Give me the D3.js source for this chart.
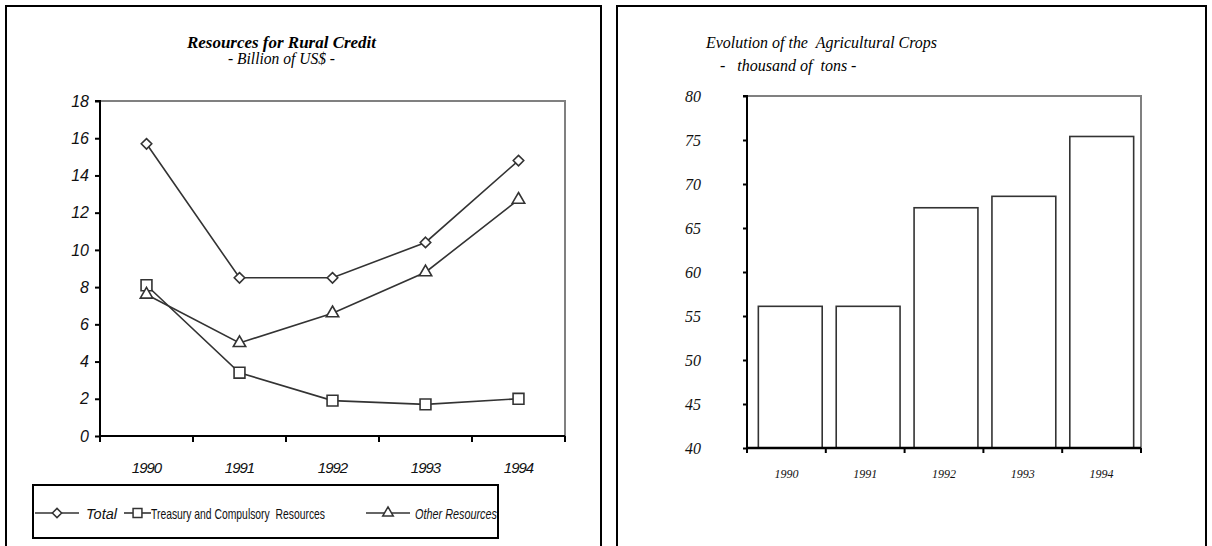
<!DOCTYPE html>
<html><head><meta charset="utf-8">
<script src="https://cdn.jsdelivr.net/npm/d3@7"></script>
<style>body{margin:0;background:#fff}svg{display:block}.pre{white-space:pre}</style>
</head><body>
<svg id="c" width="1212" height="546"></svg>
<script>
// ---- Data ----
const years = ["1990","1991","1992","1993","1994"];
const totalVals = [15.7, 8.5, 8.5, 10.4, 14.8];
const treasuryVals = [8.1, 3.4, 1.9, 1.7, 2.0];
const otherVals = [7.6, 5.0, 6.6, 8.8, 12.7];
const leftTicks = [0,2,4,6,8,10,12,14,16,18];
const seriesNames = ["Total","Treasury and Compulsory  Resources","Other Resources"];
const cropVals = [56.1, 56.1, 67.3, 68.6, 75.4];
const rightTicks = [40,45,50,55,60,65,70,75,80];

const SERIF = "'Liberation Serif','Times New Roman','DejaVu Serif',serif";
const SANS = "'Liberation Sans',Arial,sans-serif";

const svg = d3.select("#c");
const ink = "#333";

// ---- Panel frames ----
svg.append("path").attr("d","M6,560V6H601V560").attr("fill","none").attr("stroke","#000").attr("stroke-width",2);
svg.append("path").attr("d","M617,560V6H1206V560").attr("fill","none").attr("stroke","#000").attr("stroke-width",2);

// ================= LEFT: line chart =================
const L = {x0:100, x1:565, y0:436, y1:101};
const xL = d3.scaleBand().domain(years).range([L.x0, L.x1]);
const yL = d3.scaleLinear().domain([0,18]).range([L.y0, L.y1]);

svg.append("text").attr("x",187).attr("y",48)
  .attr("font-family",SERIF).attr("font-style","italic").attr("font-weight","bold")
  .attr("font-size",17).attr("textLength",189).attr("lengthAdjust","spacingAndGlyphs")
  .text("Resources for Rural Credit");
svg.append("text").attr("x",228).attr("y",64)
  .attr("font-family",SERIF).attr("font-style","italic")
  .attr("font-size",16).attr("textLength",107).attr("lengthAdjust","spacingAndGlyphs")
  .text("- Billion of US$ -");

// plot frame (top/right gray)
svg.append("path").attr("d",`M${L.x0},${L.y1}H${L.x1}V${L.y0}`).attr("fill","none").attr("stroke","#808080").attr("stroke-width",2);

// y axis
const gyL = svg.append("g").attr("transform",`translate(${L.x0},0)`)
  .call(d3.axisLeft(yL).tickValues(leftTicks).tickSize(5).tickPadding(6).tickFormat(d3.format("d")));
gyL.select(".domain").attr("stroke","#000").attr("stroke-width",2).attr("d",`M-5,${L.y1}H0V${L.y0}`);
gyL.selectAll(".tick line").attr("stroke","#000").attr("stroke-width",2);
gyL.selectAll(".tick text").attr("font-family",SANS).attr("font-style","italic").attr("font-size",16).attr("fill","#111");

// x axis
const gxL = svg.append("g").attr("transform",`translate(0,${L.y0})`)
  .call(d3.axisBottom(xL).tickSize(0).tickPadding(26));
gxL.select(".domain").attr("stroke","#000").attr("stroke-width",2).attr("d",`M${L.x0},0H${L.x1}`);
gxL.selectAll(".tick text").attr("font-family",SANS).attr("font-style","italic").attr("font-size",15)
  .attr("letter-spacing",-1).attr("fill","#111");
const bTicksL = years.map(y=>xL(y)).concat([L.x1]);
svg.append("g").selectAll("line").data(bTicksL).join("line")
  .attr("x1",d=>d).attr("x2",d=>d).attr("y1",L.y0).attr("y2",L.y0+6).attr("stroke","#000").attr("stroke-width",2);

const cx = d => xL(d) + xL.bandwidth()/2;
const lineGen = vals => d3.line().x((v,i)=>cx(years[i])).y(v=>yL(v))(vals);

const symTypes = [d3.symbolDiamond2, d3.symbolSquare2, d3.symbolTriangle2];
const symSizes = [70, 150, 110];
const seriesVals = [totalVals, treasuryVals, otherVals];

seriesVals.forEach(vals=>{
  svg.append("path").attr("d",lineGen(vals)).attr("fill","none").attr("stroke",ink).attr("stroke-width",1.6);
});
seriesVals.forEach((vals,k)=>{
  svg.append("g").selectAll("path").data(vals).join("path")
    .attr("d",d3.symbol().type(symTypes[k]).size(symSizes[k])())
    .attr("transform",(v,i)=>`translate(${cx(years[i])},${yL(v)})`)
    .attr("fill","#fff").attr("stroke",ink).attr("stroke-width",1.6);
});

// legend
svg.append("rect").attr("x",33).attr("y",485).attr("width",465).attr("height",53)
  .attr("fill","none").attr("stroke","#000").attr("stroke-width",2);
const legY = 513;
const legItems = [
  {x0:35, x1:79, tx:86, italic:true, len:31, sz:55},
  {x0:124, x1:151, tx:151, italic:false, len:174, sz:100},
  {x0:366, x1:410, tx:415, italic:true, len:82, sz:80}
];
legItems.forEach((it,i)=>{
  svg.append("line").attr("x1",it.x0).attr("x2",it.x1).attr("y1",legY).attr("y2",legY).attr("stroke",ink).attr("stroke-width",1.6);
  svg.append("path").attr("d",d3.symbol().type(symTypes[i]).size(it.sz)())
    .attr("transform",`translate(${(it.x0+it.x1)/2},${legY})`).attr("fill","#fff").attr("stroke",ink).attr("stroke-width",1.5);
  svg.append("text").attr("x",it.tx).attr("y",legY+6).attr("class","pre")
    .attr("font-family",SANS).attr("font-style",it.italic?"italic":"normal")
    .attr("font-size",15).attr("textLength",it.len).attr("lengthAdjust","spacingAndGlyphs")
    .attr("fill","#111").text(seriesNames[i]);
});

// ================= RIGHT: bar chart =================
const R = {x0:747, x1:1141, y0:448, y1:96};
const xR = d3.scaleBand().domain(years).range([R.x0, R.x1]).paddingInner(0.18).paddingOuter(0.12);
const xRb = d3.scaleBand().domain(years).range([R.x0, R.x1]);
const yR = d3.scaleLinear().domain([40,80]).range([R.y0, R.y1]);

svg.append("text").attr("x",706).attr("y",48).attr("class","pre")
  .attr("font-family",SERIF).attr("font-style","italic")
  .attr("font-size",17).attr("textLength",231).attr("lengthAdjust","spacingAndGlyphs")
  .text("Evolution of the  Agricultural Crops");
svg.append("text").attr("x",720).attr("y",71).attr("class","pre")
  .attr("font-family",SERIF).attr("font-style","italic")
  .attr("font-size",16)
  .text("-   thousand of  tons -");

svg.append("path").attr("d",`M${R.x0},${R.y1}H${R.x1}V${R.y0}`).attr("fill","none").attr("stroke","#808080").attr("stroke-width",2);

svg.append("g").selectAll("rect").data(cropVals).join("rect")
  .attr("x",(v,i)=>xR(years[i])+2).attr("width",xR.bandwidth())
  .attr("y",v=>yR(v)).attr("height",v=>yR(40)-yR(v))
  .attr("fill","#fff").attr("stroke",ink).attr("stroke-width",1.6);

const gyR = svg.append("g").attr("transform",`translate(${R.x0},0)`)
  .call(d3.axisLeft(yR).tickValues(rightTicks).tickSize(4).tickPadding(42).tickFormat(d3.format("d")));
gyR.select(".domain").attr("stroke","#000").attr("stroke-width",2).attr("d",`M-4,${R.y1}H0V${R.y0}`);
gyR.selectAll(".tick line").attr("stroke","#000").attr("stroke-width",2);
gyR.selectAll(".tick text").attr("font-family",SERIF).attr("font-style","italic").attr("font-size",16).attr("fill","#111");

const gxR = svg.append("g").attr("transform",`translate(0,${R.y0})`)
  .call(d3.axisBottom(xRb).tickSize(0).tickPadding(21));
gxR.select(".domain").attr("stroke","#000").attr("stroke-width",2.5).attr("d",`M${R.x0},0H${R.x1}`);
gxR.selectAll(".tick text").attr("font-family",SERIF).attr("font-style","italic").attr("font-size",12).attr("fill","#111");
const bTicksR = years.map(y=>xRb(y)).concat([R.x1]);
svg.append("g").selectAll("line").data(bTicksR).join("line")
  .attr("x1",d=>d).attr("x2",d=>d).attr("y1",R.y0).attr("y2",R.y0+5).attr("stroke","#000").attr("stroke-width",2);
</script>
</body></html>
